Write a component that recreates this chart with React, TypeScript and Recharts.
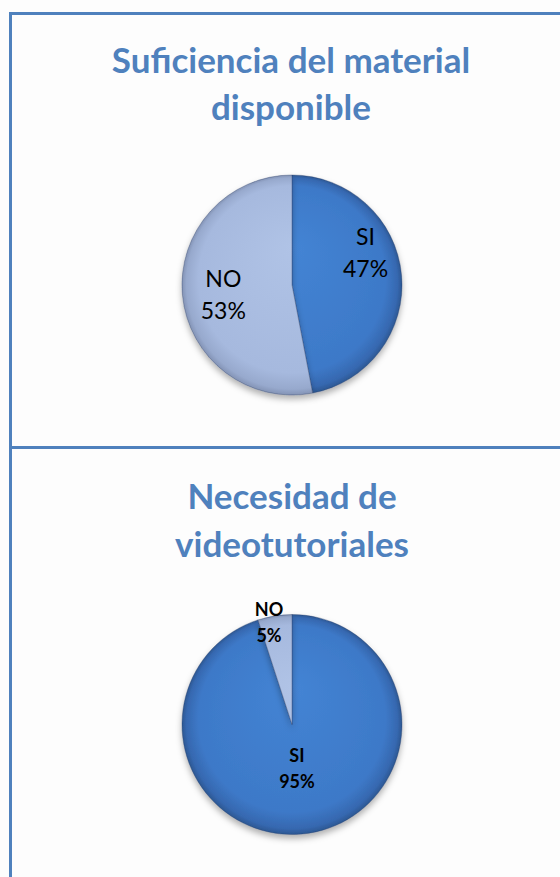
import React from 'react';
import { PieChart, Pie, Cell } from 'recharts';

const categories = ['SI', 'NO'];
const materialValues = [47, 53];
const videoValues = [95, 5];
const titleMaterial = ['Suficiencia del material', 'disponible'];
const titleVideo = ['Necesidad de', 'videotutoriales'];

const materialData = categories.map((name, i) => ({ name, value: materialValues[i] }));
const videoData = categories.map((name, i) => ({ name, value: videoValues[i] }));

const BLUE = '#4f81bd';
const FONT = 'Lato, "Open Sans", sans-serif';

type LabelCfg = Record<string, { rf: number; da: number }>;

const makeLabel = (cfg: LabelCfg, fontSize: number, bold: boolean, gap: number) => (props: any) => {
  const { cx, cy, midAngle, outerRadius, percent } = props;
  const name = props.name ?? props.payload?.name;
  const c = cfg[name] || { rf: 0.6, da: 0 };
  const a = ((midAngle + c.da) * Math.PI) / 180;
  const r = outerRadius * c.rf;
  const x = cx + r * Math.cos(a);
  const y = cy - r * Math.sin(a);
  const cap = fontSize * 0.72;
  return (
    <text
      textAnchor="middle"
      fill="#000"
      style={{ fontFamily: FONT, fontSize, fontWeight: bold ? 700 : 400 }}
    >
      <tspan x={x} y={y - gap / 2 + cap / 2}>{name}</tspan>
      <tspan x={x} y={y + gap / 2 + cap / 2}>{`${Math.round(percent * 100)}%`}</tspan>
    </text>
  );
};

const materialLabelCfg: LabelCfg = { SI: { rf: 0.73, da: 18.3 }, NO: { rf: 0.63, da: 2.5 } };
const videoLabelCfg: LabelCfg = { SI: { rf: 0.405, da: -2.6 }, NO: { rf: 0.95, da: 3.7 } };

const Gradients = ({ id, cx, cy, r }: { id: string; cx: number; cy: number; r: number }) => (
  <defs>
    <radialGradient id={`${id}-si`} gradientUnits="userSpaceOnUse" cx={cx} cy={cy} r={r} fx={cx} fy={cy - r * 0.35}>
      <stop offset="0" stopColor="#4484d4" />
      <stop offset="0.85" stopColor="#3d79c8" />
      <stop offset="0.96" stopColor="#3668b0" />
      <stop offset="1" stopColor="#2c5792" />
    </radialGradient>
    <radialGradient id={`${id}-no`} gradientUnits="userSpaceOnUse" cx={cx} cy={cy} r={r} fx={cx} fy={cy - r * 0.35}>
      <stop offset="0" stopColor="#b0c3e6" />
      <stop offset="0.85" stopColor="#a6b9de" />
      <stop offset="0.96" stopColor="#97a9cd" />
      <stop offset="1" stopColor="#8393b5" />
    </radialGradient>
    <filter id={`${id}-shadow`} x="-20%" y="-20%" width="140%" height="140%">
      <feDropShadow dx="0" dy="4" stdDeviation="3" floodColor="#000" floodOpacity="0.3" />
    </filter>
  </defs>
);

const PieBlock = ({ id, data, top, height, cy, label }: any) => (
  <div style={{ position: 'absolute', left: 0, top, width: 560, height }}>
    <PieChart width={560} height={height} margin={{ top: 0, right: 0, bottom: 0, left: 0 }}>
      <Gradients id={id} cx={292} cy={cy} r={110} />
      <Pie
        data={data}
        dataKey="value"
        nameKey="name"
        cx={292}
        cy={cy}
        outerRadius={110}
        startAngle={90}
        endAngle={-270}
        stroke="rgba(40,60,100,0.45)"
        strokeWidth={0.8}
        labelLine={false}
        label={label}
        isAnimationActive={false}
        filter={`url(#${id}-shadow)`}
      >
        {data.map((d: any) => (
          <Cell key={d.name} fill={`url(#${id}-${d.name === 'SI' ? 'si' : 'no'})`} />
        ))}
      </Pie>
    </PieChart>
  </div>
);

export default function App() {
  return (
    <div style={{ position: 'absolute', left: 0, top: 0, width: 560, height: 877, background: '#fdfdfd', overflow: 'hidden' }}>
      <svg width={560} height={877} style={{ position: 'absolute', left: 0, top: 0 }}>
        <line x1={9} y1={13.5} x2={560} y2={13.5} stroke={BLUE} strokeWidth={3} />
        <line x1={10.5} y1={12} x2={10.5} y2={877} stroke={BLUE} strokeWidth={3} />
        <line x1={9} y1={447.5} x2={560} y2={447.5} stroke={BLUE} strokeWidth={3} />
        <text x={291} textAnchor="middle" fill={BLUE} style={{ fontFamily: FONT, fontSize: 35, fontWeight: 700 }}>
          <tspan x={291} y={73}>{titleMaterial[0]}</tspan>
          <tspan x={291} y={120}>{titleMaterial[1]}</tspan>
        </text>
        <text x={292} textAnchor="middle" fill={BLUE} style={{ fontFamily: FONT, fontSize: 35, fontWeight: 700 }}>
          <tspan x={292} y={509}>{titleVideo[0]}</tspan>
          <tspan x={292} y={557}>{titleVideo[1]}</tspan>
        </text>
      </svg>
      <PieBlock id="mat" data={materialData} top={0} height={446} cy={285} label={makeLabel(materialLabelCfg, 23, false, 32)} />
      <PieBlock id="vid" data={videoData} top={449} height={428} cy={275.5} label={makeLabel(videoLabelCfg, 18, true, 26)} />
    </div>
  );
}
